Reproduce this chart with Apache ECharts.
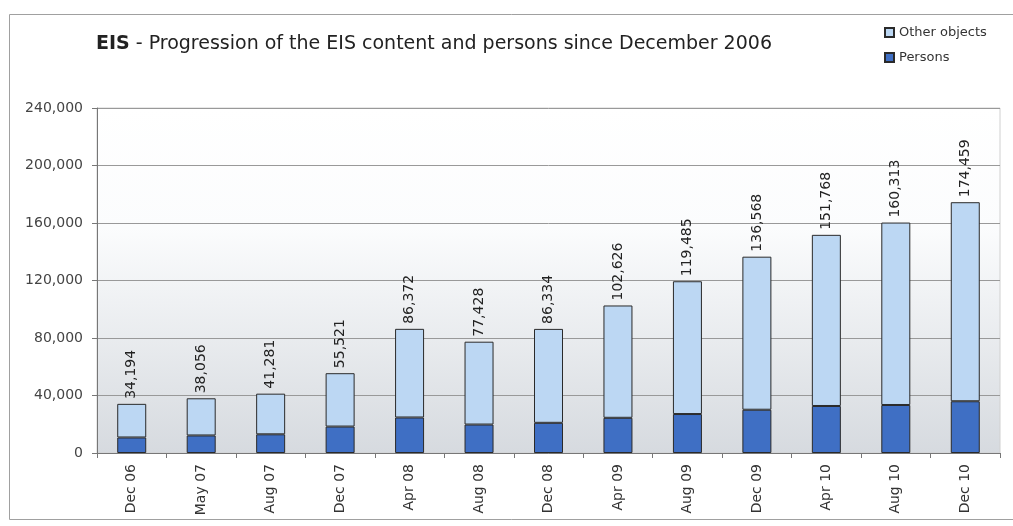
<!DOCTYPE html>
<html><head><meta charset="utf-8">
<script src="https://cdn.jsdelivr.net/npm/echarts@6/dist/echarts.min.js"></script>
<style>html,body{margin:0;padding:0;background:#fff}#c{width:1013px;height:526px}</style>
</head><body><div id="c"></div>
<script>
const categories = ['Dec 06','May 07','Aug 07','Dec 07','Apr 08','Aug 08','Dec 08','Apr 09','Aug 09','Dec 09','Apr 10','Aug 10','Dec 10'];
const totals = [34194,38056,41281,55521,86372,77428,86334,102626,119485,136568,151768,160313,174459];
const persons = [10800,12200,13000,18400,24700,19800,21000,24500,27100,30100,32700,33400,36000];
const yTicks = [0,40000,80000,120000,160000,200000,240000];
const otherObjects = totals.map((t,i)=>t-persons[i]);

const chart = echarts.init(document.getElementById('c'));
const font = 'DejaVu Sans';
chart.setOption({
  animation:false,
  textStyle:{fontFamily:font},
  graphic:[{type:'rect',shape:{x:9.5,y:14.5,width:1010,height:505},style:{fill:'none',stroke:'#a0a0a0',lineWidth:1}}],
  title:{
    text:'{b|EIS} - Progression of the EIS content and persons since December 2006',
    left:91, top:30,
    textStyle:{fontFamily:font,fontSize:19,fontWeight:'normal',color:'#222',
      rich:{b:{fontFamily:font,fontSize:19,fontWeight:'bold',color:'#222'}}}
  },
  legend:{
    orient:'vertical', left:879, top:21, itemGap:12, itemWidth:9, itemHeight:9,
    data:['Other objects','Persons'],
    textStyle:{fontFamily:font,fontSize:13,color:'#333'},
    icon:'rect'
  },
  grid:{left:97,right:13,top:108,bottom:73,show:true,borderWidth:1,borderColor:'#d0d0d0',
    backgroundColor:{type:'linear',x:0,y:0,x2:0,y2:1,colorStops:[{offset:0,color:'#ffffff'},{offset:0.35,color:'#fbfcfd'},{offset:1,color:'#d6dadf'}]}},
  xAxis:{
    type:'category', data:categories,
    axisLine:{lineStyle:{color:'#777'}},
    axisTick:{show:true,alignWithLabel:false,length:5,lineStyle:{color:'#777'}},
    axisLabel:{rotate:90,fontSize:14,color:'#333',margin:11,fontFamily:font}
  },
  yAxis:{
    type:'value', min:0, max:240000, interval:40000,
    axisLine:{show:true,lineStyle:{color:'#777'}},
    axisTick:{show:true,length:5,lineStyle:{color:'#777'}},
    axisLabel:{fontSize:14,color:'#444',margin:14,fontFamily:font,
      formatter:v=>yTicks.includes(v)?v.toLocaleString('en-US'):''},
    splitLine:{lineStyle:{color:'#999',width:1}}
  },
  series:[
    {name:'Persons',type:'bar',stack:'s',data:persons,barWidth:29,
     itemStyle:{color:'#3f6fc4',borderColor:'#2a2a2a',borderWidth:1}},
    {name:'Other objects',type:'bar',stack:'s',data:otherObjects,barWidth:29,
     itemStyle:{color:'#bcd7f3',borderColor:'#2a2a2a',borderWidth:1},
     label:{show:true,position:'top',rotate:90,align:'left',verticalAlign:'middle',distance:5,
       fontSize:14,color:'#222',fontFamily:font,
       formatter:p=>totals[p.dataIndex].toLocaleString('en-US')}}
  ]
});
</script></body></html>
